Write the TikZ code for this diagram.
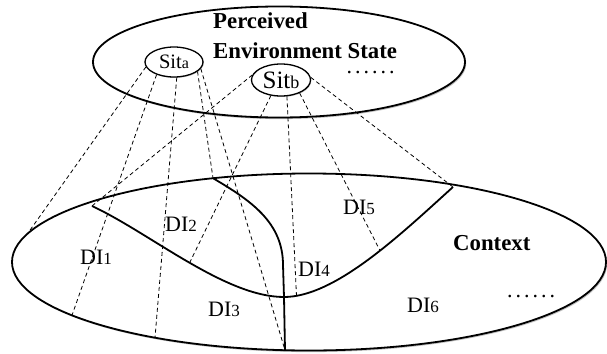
\documentclass[tikz,border=0pt]{standalone}
\usepackage{fontspec}
\setmainfont{Liberation Serif}
\usetikzlibrary{shapes.geometric,shadows}
\newcommand\fsz[1]{\fontsize{#1}{#1}\selectfont}
\newcommand\sixdots{.\kern3pt.\kern3pt.\kern3pt.\kern3pt.\kern3pt.}
\begin{document}
\begin{tikzpicture}[x=1pt,y=-1pt,
  bigell/.style={draw,line width=1.8pt,fill=white,
    drop shadow={shadow xshift=1.2pt,shadow yshift=-1.6pt,fill=black,opacity=0.25}},
  sitell/.style={ellipse,draw,line width=1.3pt,fill=white,inner sep=0pt,
    drop shadow={shadow xshift=0.8pt,shadow yshift=-1pt,fill=black,opacity=0.2}},
  dline/.style={line width=0.8pt,dash pattern=on 4pt off 3pt},
  region/.style={line width=1.8pt},
  lbl/.style={inner sep=0pt,anchor=base west,font=\fsz{22}},
  title/.style={inner sep=0pt,anchor=base west,font=\fsz{22.8}\bfseries},
]
\useasboundingbox (0,0) rectangle (607,353);
% big ellipses
\draw[bigell] (309,262) ellipse [x radius=297pt, y radius=88.5pt];
\draw[bigell] (279,62) ellipse [x radius=186pt, y radius=55.5pt];
% situation nodes
\node[sitell,minimum width=58pt,minimum height=30pt] (sa) at (174,62) {\fsz{20.5}Sit{\fsz{16}a}};
\node[sitell,minimum width=59pt,minimum height=32pt] (sb) at (281,80) {\fsz{25}Sit{\fsz{18}b}};
% key points
\coordinate (A) at (92,206);
\coordinate (B) at (453,187);
\coordinate (C) at (213,178.2);
\coordinate (J) at (284,297);
\coordinate (D) at (285,350.2);
\coordinate (e1) at (28,233);
\coordinate (e2) at (72,315.3);
\coordinate (e3) at (155,337.7);
% region boundaries
\draw[region] (A) .. controls (150,233) and (225,297) .. coordinate[pos=0.51] (c1) (J)
  .. controls (335,297) and (400,235) .. coordinate[pos=0.08] (c2) coordinate[pos=0.57] (c3) (B);
\draw[region] (C) .. controls (250,200) and (283,222) .. (283,265) -- (J) -- (D);
% mapping lines
\draw[dline] (sa.190) -- (e1);
\draw[dline] (sa.216) -- (e2);
\draw[dline] (sa.280) -- (e3);
\draw[dline] (sa.-22) -- (C);
\draw[dline] (sa.-14) -- (D);
\draw[dline] (sb.170) -- (A);
\draw[dline] (sb.237) -- (c1);
\draw[dline] (sb.290) -- (c2);
\draw[dline] (sb.-35) -- (c3);
\draw[dline] (sb.5) -- (B);
% texts
\node[title] (pes1) at (213,28.5) {Perceived};
\node[title] (pes2) at (213,59) {Environment State};
\node[title] (ctx) at (453,250) {Context};
\node[lbl] (dots1) at (346.5,73.5) {\sixdots};
\node[lbl] (dots2) at (507,297) {\sixdots};
\node[lbl] (di1) at (80,264) {DI{\fsz{17}1}};
\node[lbl] (di2) at (165,231) {DI{\fsz{17}2}};
\node[lbl] (di3) at (208,316) {DI{\fsz{17}3}};
\node[lbl] (di4) at (298,276) {DI{\fsz{17}4}};
\node[lbl] (di5) at (343,214) {DI{\fsz{17}5}};
\node[lbl] (di6) at (407,312) {DI{\fsz{17}6}};
\end{tikzpicture}
\end{document}
